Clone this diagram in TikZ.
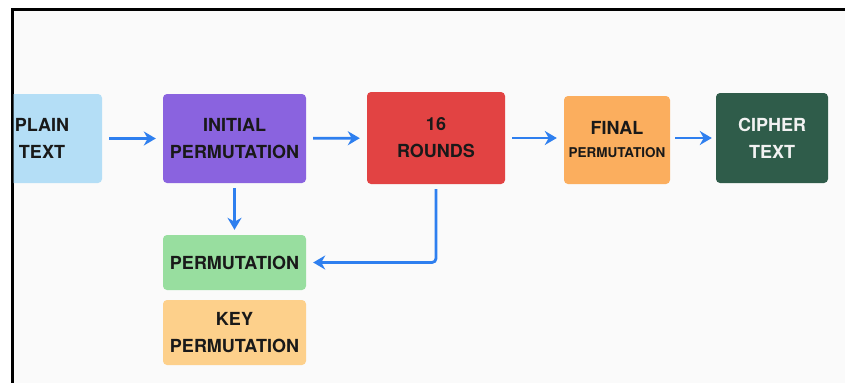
\documentclass[tikz,border=0pt]{standalone}
\usepackage{fontspec}
\setsansfont{TeX Gyre Heros}
\usepackage{tikz}
\usetikzlibrary{arrows.meta, positioning}
\definecolor{plainblue}{HTML}{B4DEF6}
\definecolor{initpurple}{HTML}{8A63DF}
\definecolor{roundsred}{HTML}{E24343}
\definecolor{finalorange}{HTML}{FBAE5E}
\definecolor{cipherg}{HTML}{2F5C4A}
\definecolor{permgreen}{HTML}{98DE9F}
\definecolor{keyorange}{HTML}{FDD08B}
\definecolor{flowblue}{HTML}{2E7FEF}
\definecolor{canvas}{HTML}{FAFAFA}
\tikzstyle{block} = [rectangle, rounded corners=4pt, text centered, align=center, text=black!90, font=\sffamily\bfseries\fontsize{18}{27}\selectfont, inner sep=0pt]
\tikzstyle{arrow} = [line width=2.8pt, draw=flowblue, -{Stealth[length=12pt, width=14pt]}, shorten >=7pt, shorten <=7pt]

\begin{document}
\begin{tikzpicture}[x=1pt, y=-1pt]
    \useasboundingbox (0,0) rectangle (845,383);
    % Frame
    \fill[canvas] (12,9) rectangle (845,383);
    \draw[line width=3pt] (845,9) -- (12,9) -- (12,383);

    % Input, cut by the frame
    \begin{scope}
        \clip (13.5,10.5) rectangle (845,383);
        \node[block, fill=plainblue, minimum width=120pt, minimum height=89pt] (plain) at (42,138.5) {PLAIN\\TEXT};
    \end{scope}

    % Main row
    \node[block, fill=initpurple, minimum width=143pt, minimum height=89pt] (init) at (234.5,138.5) {INITIAL\\PERMUTATION};
    \node[block, fill=roundsred, minimum width=138pt, minimum height=92pt] (rounds) at (436,138) {16\\ROUNDS};
    \node[block, fill=finalorange, minimum width=106pt, minimum height=88pt] (final) at (617,140) {FINAL\\[-4pt]{\fontsize{13.5}{16}\selectfont PERMUTATION}};
    \node[block, fill=cipherg, text=white!95!black, minimum width=112pt, minimum height=90pt] (cipher) at (772,138) {CIPHER\\TEXT};

    % Key schedule
    \node[block, fill=permgreen, minimum width=143pt, minimum height=55pt] (perm) at (234.5,262.5) {PERMUTATION};
    \node[block, fill=keyorange, minimum width=143pt, minimum height=65pt] (key) at (234.5,332.5) {KEY\\PERMUTATION};

    % Connections
    \draw[arrow] (plain.east) -- (init.west);
    \draw[arrow] (init) -- (rounds);
    \draw[arrow] (rounds) -- (final.west |- rounds);
    \draw[arrow, shorten <=5pt, shorten >=4pt] (final.east |- rounds) -- (cipher.west |- rounds);
    \draw[arrow, shorten <=5pt, shorten >=5pt] (init) -- (perm);
    \draw[arrow, rounded corners=4pt, shorten <=5pt] (rounds.south) |- (perm.east);
\end{tikzpicture}
\end{document}
